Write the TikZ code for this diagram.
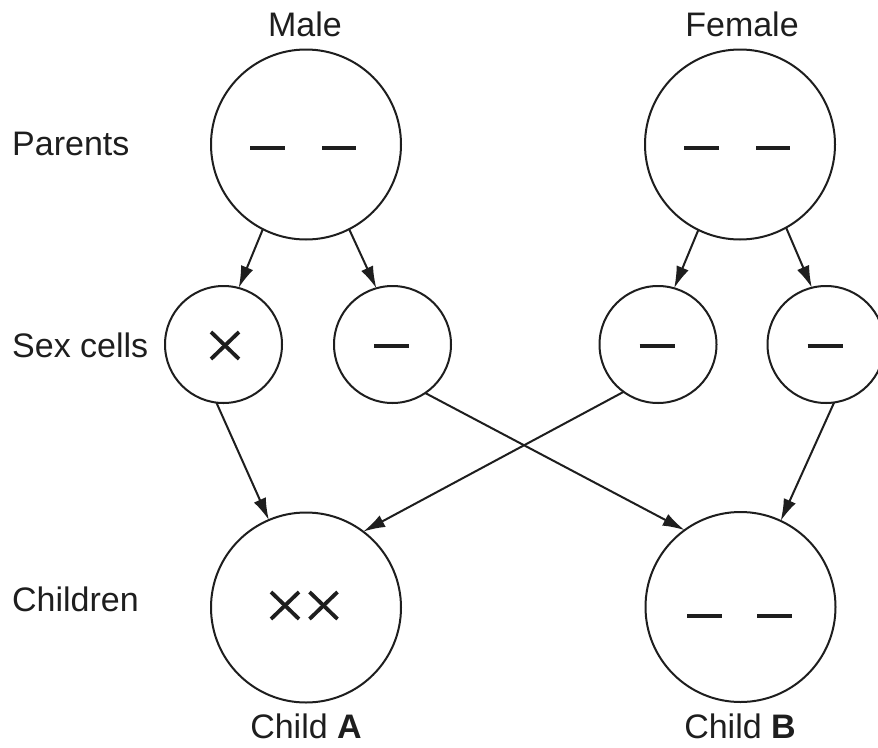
\documentclass[tikz,border=0pt]{standalone}
\usepackage{fontspec}
\setmainfont{Liberation Sans}
\usetikzlibrary{arrows.meta,calc}
\definecolor{ink}{RGB}{30,30,30}
\begin{document}
\begin{tikzpicture}[x=1pt,y=-1pt,
  cellbig/.style={circle,draw=ink,line width=2pt,minimum size=190pt,inner sep=0pt,outer sep=0pt},
  cellsmall/.style={circle,draw=ink,line width=2pt,minimum size=117pt,inner sep=0pt,outer sep=0pt},
  lbl/.style={font=\fontsize{34pt}{40pt}\selectfont,text=ink,inner sep=0pt},
  bar/.style={draw=ink,line width=4pt},
  cross/.style={draw=ink,line width=3.8pt},
  conn/.style={draw=ink,line width=2pt,-{Latex[length=22pt,width=13pt]}}]
\useasboundingbox (0,0) rectangle (878,747);
\fill[white] (0,0) rectangle (878,747);
% nodes
\node[cellbig] (M) at (306,144.5) {};
\node[cellbig] (F) at (740,144.5) {};
\node[cellsmall] (s1) at (223.5,344.5) {};
\node[cellsmall] (s2) at (392.5,344.5) {};
\node[cellsmall] (s3) at (658,344.5) {};
\node[cellsmall] (s4) at (826,344.5) {};
\node[cellbig] (A) at (306,607.5) {};
\node[cellbig] (B) at (740.5,607) {};
% labels
\node[lbl,anchor=base] (tM) at (305,36) {Male};
\node[lbl,anchor=base] (tF) at (742,36) {Female};
\node[lbl,anchor=base west] (tP) at (12,155) {Parents};
\node[lbl,anchor=base west] (tS) at (12,357) {Sex cells};
\node[lbl,anchor=base west] (tC) at (12,611) {Children};
\node[lbl,anchor=base] (tA) at (306,738) {Child \textbf{A}};
\node[lbl,anchor=base] (tB) at (740,738) {Child \textbf{B}};
% chromosome bars
\foreach \n in {M,F}{
  \draw[bar] ($(\n)+(-56,3.5)$) -- ($(\n)+(-21,3.5)$);
  \draw[bar] ($(\n)+(16,3.5)$) -- ($(\n)+(50,3.5)$);
}
\draw[bar] ($(B)+(-53.5,9)$) -- ($(B)+(-18.5,9)$);
\draw[bar] ($(B)+(16.5,9)$) -- ($(B)+(51.5,9)$);
\foreach \n in {s2,s3,s4}{
  \draw[bar] ($(\n)+(-18.5,1.5)$) -- ($(\n)+(16.5,1.5)$);
}
% crosses
\foreach \n/\dx/\dy in {s1/1.5/1, A/-21/-2, A/17.5/-2}{
  \draw[cross] ($(\n)+(\dx-14,\dy-13.5)$) -- ($(\n)+(\dx+14,\dy+13.5)$);
  \draw[cross] ($(\n)+(\dx-14,\dy+13.5)$) -- ($(\n)+(\dx+14,\dy-13.5)$);
}
% connectors
\draw[conn] (M.243.3) -- (s1.75.8);
\draw[conn] (M.297.8) -- (s2.106.9);
\draw[conn] (F.244.4) -- (s3.74.4);
\draw[conn] (F.299.9) -- (s4.104.6);
\draw[conn] (s1.263.7) -- (A.113.3);
\draw[conn] (s2.304.9) -- (B.126.9);
\draw[conn] (s3.234.2) -- (A.53.1);
\draw[conn] (s4.278.7) -- (B.65.5);
\end{tikzpicture}
\end{document}
